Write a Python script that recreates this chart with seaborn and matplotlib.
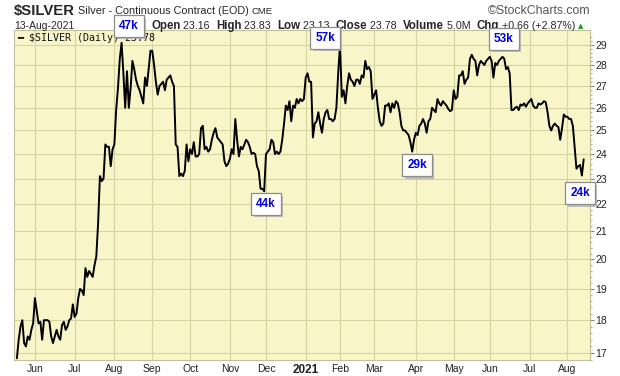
import numpy as np
import pandas as pd
import matplotlib
matplotlib.use("Agg")
import matplotlib.pyplot as plt
import matplotlib.ticker as mticker
import matplotlib.patheffects as pe
import seaborn as sns

# ---------------------------------------------------------------
# Data: $SILVER daily closes, 15-May-2020 .. 13-Aug-2021
# ---------------------------------------------------------------
start_date = "2020-05-15"
end_date = "2021-08-13"
holidays = ["2020-05-25", "2020-07-03", "2020-09-07", "2020-11-26", "2020-12-25",
            "2021-01-01", "2021-01-18", "2021-02-15", "2021-04-02", "2021-05-31",
            "2021-07-05"]

close_may20 = [16.85, 17.4, 17.8, 18.0, 17.3, 17.2, 17.5, 17.4, 17.7, 17.9]
close_jun20 = [18.7, 18.3, 17.9, 17.95, 17.4, 18.0, 18.0, 18.0, 17.95, 17.5,
               17.3, 17.5, 17.7, 17.5, 17.4, 17.85, 17.95, 17.7, 17.8, 18.0,
               18.05, 18.5]
close_jul20 = [18.1, 18.2, 18.7, 19.0, 18.95, 18.8, 19.7, 19.4, 19.6, 19.5,
               19.4, 19.8, 20.1, 21.3, 23.1, 22.9, 23.0, 24.4, 24.3, 24.3,
               23.5, 24.2]
close_aug20 = [24.4, 25.9, 26.9, 28.3, 29.1, 27.6, 26.0, 27.7, 26.0, 26.9,
               28.2, 27.8, 27.3, 27.0, 26.8, 26.5, 26.2, 27.4, 27.0, 27.8,
               28.7]
close_sep20 = [28.7, 28.0, 27.2, 26.6, 27.0, 27.1, 27.2, 26.8, 27.3, 27.4,
               27.5, 27.2, 27.0, 24.4, 24.3, 23.1, 23.2, 23.1, 23.3, 24.4,
               23.7]
close_oct20 = [24.2, 24.0, 24.5, 23.9, 23.9, 24.0, 25.1, 25.2, 24.2, 24.3,
               24.1, 24.2, 24.6, 24.9, 25.1, 24.7, 24.6, 24.5, 24.4, 23.7,
               23.5, 23.6]
close_nov20 = [23.8, 24.2, 24.0, 25.5, 24.6, 23.9, 24.3, 24.2, 24.4, 24.6,
               24.5, 24.3, 24.0, 24.05, 24.0, 23.5, 23.3, 22.6, 22.6, 22.5]
close_dec20 = [24.0, 24.1, 24.2, 24.6, 24.5, 24.0, 24.1, 24.0, 24.1, 24.6,
               25.3, 26.1, 25.9, 26.3, 25.4, 26.1, 26.0, 26.4, 26.2, 26.4,
               26.3, 26.4]
close_jan21 = [27.4, 27.6, 27.2, 27.2, 24.7, 25.3, 25.4, 25.8, 25.3, 24.9,
               25.5, 25.8, 25.9, 25.5, 25.5, 25.4, 25.5, 26.0, 27.6]
close_feb21 = [29.0, 26.5, 26.8, 26.2, 27.0, 27.6, 27.3, 27.2, 27.0, 27.3,
               27.3, 27.1, 27.5, 27.4, 28.2, 27.8, 27.9, 27.7, 26.4]
close_mar21 = [26.6, 26.8, 26.0, 25.4, 25.2, 25.3, 26.1, 26.1, 26.2, 25.8,
               26.2, 26.0, 26.3, 26.2, 25.8, 25.2, 25.0, 25.0, 24.9, 24.8,
               24.5, 24.1, 24.6]
close_apr21 = [24.9, 24.8, 25.2, 25.3, 25.5, 25.3, 24.9, 25.4, 25.5, 26.0,
               25.9, 25.8, 26.4, 26.2, 26.1, 26.3, 26.2, 26.1, 25.95, 25.85,
               25.9]
close_may21 = [26.8, 26.4, 26.5, 27.5, 27.5, 27.7, 27.1, 27.3, 27.4, 28.3,
               28.5, 28.3, 28.2, 27.5, 28.0, 28.2, 28.1, 28.0, 28.2, 28.3]
close_jun21 = [28.4, 28.2, 27.4, 28.1, 28.0, 28.2, 28.3, 28.4, 28.3, 27.8,
               27.9, 27.6, 25.9, 25.9, 26.0, 26.05, 25.9, 26.15, 26.1, 26.2,
               26.05, 26.2]
close_jul21 = [26.3, 26.4, 26.1, 26.0, 26.0, 26.2, 26.15, 26.2, 26.3, 26.25,
               25.8, 25.2, 25.0, 25.2, 25.3, 25.2, 25.15, 24.6, 25.1, 25.7,
               25.6]
close_aug21 = [25.6, 25.5, 25.5, 25.2, 24.3, 23.4, 23.5, 23.55, 23.12, 23.78]

vol_labels = ["47k", "57k", "44k", "29k", "53k", "24k"]

closes = (close_may20 + close_jun20 + close_jul20 + close_aug20 + close_sep20
          + close_oct20 + close_nov20 + close_dec20 + close_jan21 + close_feb21
          + close_mar21 + close_apr21 + close_may21 + close_jun21 + close_jul21
          + close_aug21)

dates = pd.bdate_range(start_date, end_date, freq="C", holidays=holidays)
df = pd.DataFrame({"date": dates, "close": closes})
df["pos"] = np.arange(len(df))

# first trading day of each month -> tick
firsts = df.groupby(df["date"].dt.to_period("M"))["pos"].first().iloc[1:]
tick_pos = firsts.values
tick_lab = [p.strftime("%b") if p.month != 1 else str(p.year) for p in firsts.index]

#================================================
# Figure
#================================================
sns.set_style("white")
plt.rcParams["font.family"] = ["Liberation Sans", "DejaVu Sans"]

W, H = 620, 376
fig = plt.figure(figsize=(W / 100, H / 100), dpi=100)
fig.patch.set_facecolor("white")
ax = fig.add_axes([14 / W, 16 / H, 576 / W, 330 / H])

sns.lineplot(data=df, x="pos", y="close", ax=ax, color="black", linewidth=1.4)

ax.set_yscale("log")
ax.set_ylim(16.8, 29.75)
ax.set_xlim(-1.6, 317.5)
ax.set_facecolor("#F8F6C9")
ax.set_xlabel("")
ax.set_ylabel("")

ax.yaxis.tick_right()
ax.yaxis.set_major_locator(mticker.FixedLocator(range(17, 30)))
ax.yaxis.set_major_formatter(mticker.FormatStrFormatter("%d"))
ax.yaxis.set_minor_locator(mticker.FixedLocator(np.arange(16.8, 29.6, 0.2)))
ax.yaxis.set_minor_formatter(mticker.NullFormatter())
ax.tick_params(axis="y", which="major", length=3, width=0.8, color="#888866",
               labelsize=7.5, pad=1, labelcolor="#222222")
ax.tick_params(axis="y", which="minor", length=1.5, width=0.6, color="#999977")

ax.set_xticks(tick_pos)
ax.set_xticklabels(tick_lab)
ax.tick_params(axis="x", length=0, labelsize=7.5, pad=3, labelcolor="#222222")
for lab in ax.get_xticklabels():
    if lab.get_text().isdigit():
        lab.set_fontweight("bold")
        lab.set_fontsize(8.5)

ax.grid(True, which="major", color="#D5D3A0", linewidth=0.8)
ax.set_axisbelow(True)
for sp in ax.spines.values():
    sp.set_color("#C2C09A")
    sp.set_linewidth(0.8)

# legend line inside plot
ax.text(0.006, 0.99, "\u2501 $SILVER (Daily) 23.78", transform=ax.transAxes,
        ha="left", va="top", fontsize=7.2, family="DejaVu Sans Mono", color="#111111")

#================================================
# Header text
#================================================
renderer = fig.canvas.get_renderer()


def run_text(x, y, pieces):
    # draw text pieces one after another, starting at pixel x
    for txt, kw in pieces:
        t = fig.text(x / W, 1 - y / H, txt, va="center", ha="left", **kw)
        bb = t.get_window_extent(renderer)
        x = bb.x1


# symbol name: squeeze the font size so it roughly fits the original's width
sym = fig.text(14 / W, 1 - 11 / H, "$SILVER", va="center", ha="left",
               fontsize=12.5, fontweight="bold",
               family=["Liberation Sans Narrow", "Liberation Sans"])
wpx = sym.get_window_extent(renderer).width
if wpx > 61:
    sym.set_fontsize(12.5 * 61 / wpx)
x_after = sym.get_window_extent(renderer).x1
run_text(x_after, 11, [(" Silver - Continuous Contract (EOD) ", dict(fontsize=7.8)),
                       ("CME", dict(fontsize=6.8))])
fig.text(590 / W, 1 - 11 / H, "\u00a9StockCharts.com", ha="right", va="center",
         fontsize=8.8, color="#555555")
fig.text(14 / W, 1 - 26 / H, "13-Aug-2021", ha="left", va="center", fontsize=7.5)

bold = dict(fontsize=8.3, fontweight="bold")
norm = dict(fontsize=7.7)
run_text(151, 26, [("Open", bold), (" 23.16  ", norm), ("High", bold), (" 23.83  ", norm),
                   ("Low", bold), (" 23.13  ", norm), ("Close", bold), (" 23.78  ", norm),
                   ("Volume", bold), (" 5.0M  ", norm), ("Chg", bold),
                   (" +0.66 (+2.87%) ", norm),
                   ("\u25b2", dict(fontsize=5, color="#1a9a1a", family="DejaVu Sans"))])

#================================================
# Volume call-out boxes
#================================================
box_xy = [(129, 26), (325, 38), (266, 204), (417, 165), (504, 39), (580, 193)]
for lab, (bx, by) in zip(vol_labels, box_xy):
    t = fig.text(bx / W, 1 - by / H, lab, ha="center", va="center", fontsize=8.5,
                 fontweight="bold", color="#0000DD", zorder=10,
                 bbox=dict(boxstyle="square,pad=0.4", fc="white", ec="#8C8C8C", lw=0.9))
    t.get_bbox_patch().set_path_effects(
        [pe.SimplePatchShadow(offset=(2, -2), shadow_rgbFace="#B0B0B0", alpha=0.8), pe.Normal()])

fig.savefig("out.png", dpi=100)
